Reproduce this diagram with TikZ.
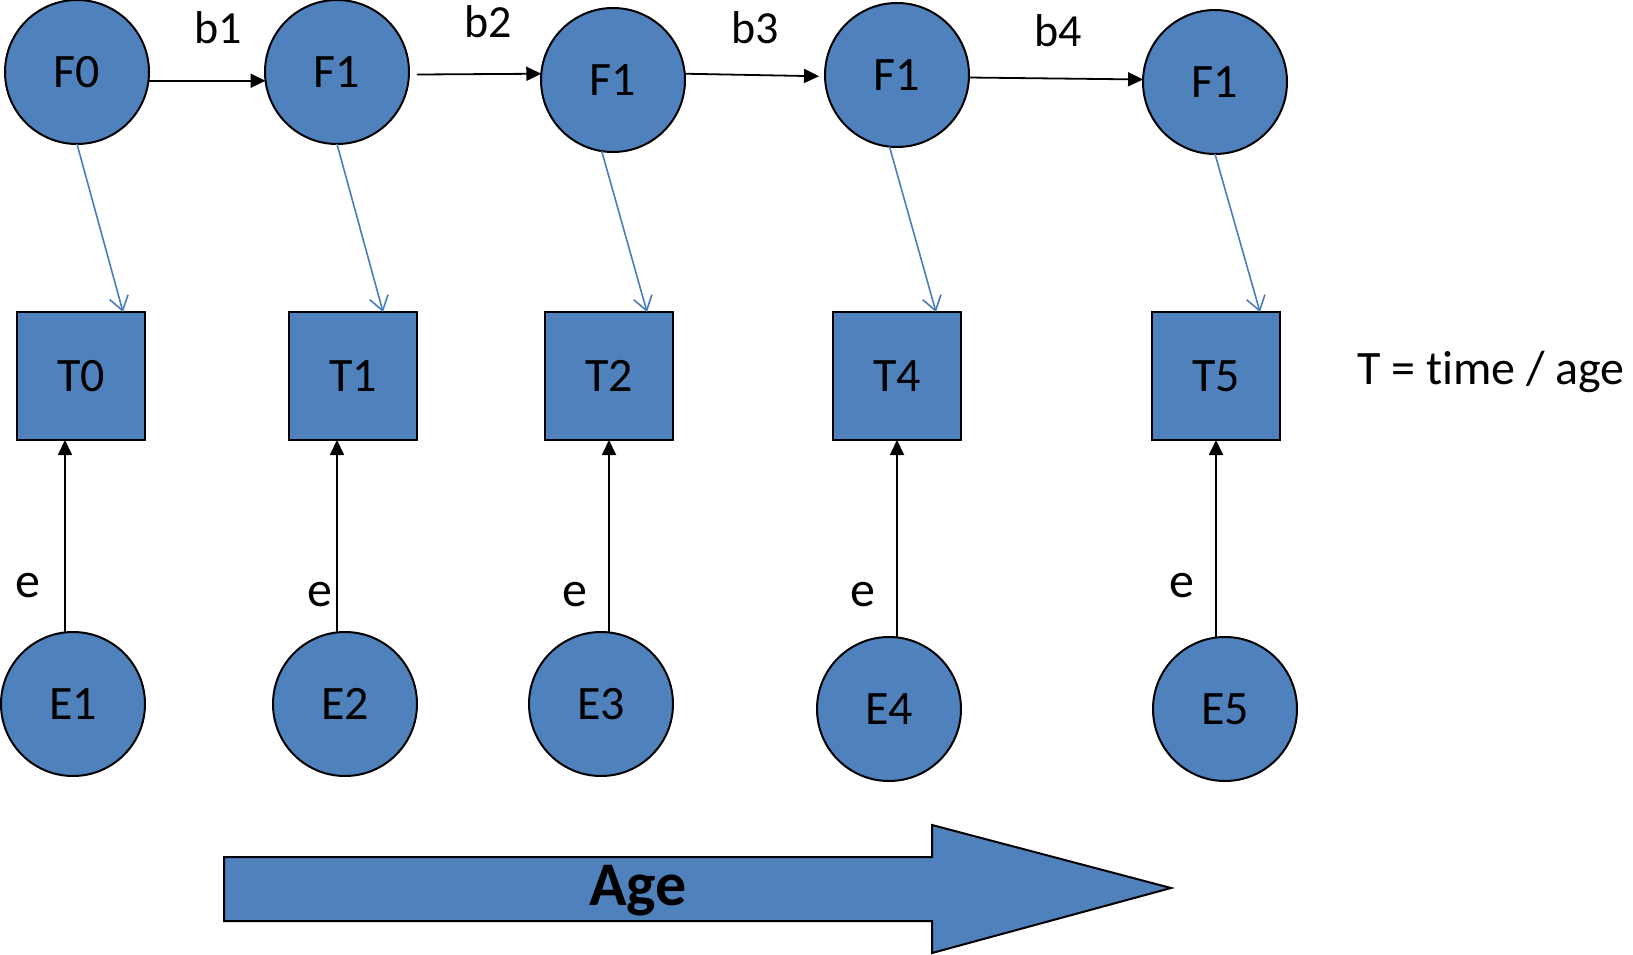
\documentclass[tikz,border=0pt]{standalone}
\usepackage{fontspec}
\setmainfont[RawFeature={-liga;-clig;-dlig;-calt}]{Carlito}
\usetikzlibrary{arrows.meta}
\definecolor{nodeblue}{HTML}{4F81BD}
\definecolor{linkblue}{HTML}{4A7EBB}
\begin{document}
\begin{tikzpicture}[x=1pt,y=-1pt,
  latent/.style={circle,draw=black,line width=2pt,fill=nodeblue,minimum size=144pt,inner sep=0pt,outer sep=0pt,font=\fontsize{48}{52}\selectfont},
  observed/.style={rectangle,draw=black,line width=2pt,fill=nodeblue,minimum size=128pt,inner sep=0pt,outer sep=0pt,font=\fontsize{48}{52}\selectfont},
  blk/.style={draw=black,line width=1.8pt,-{Triangle[length=15pt,width=14pt]}},
  load/.style={draw=linkblue,line width=1.6pt,-{Straight Barb[length=14pt,width=19pt,line width=1.6pt]}},
  coef/.style={inner sep=0pt,font=\fontsize{46}{50}\selectfont},
  errlab/.style={inner sep=0pt,font=\fontsize{50}{54}\selectfont}]
\useasboundingbox (0,0) rectangle (1633,955);

% latent factors along the top row
\node[latent] (F0) at (77,72) {F0};
\node[latent] (F1a) at (337,72) {F1};
\node[latent] (F1b) at (613,80) {F1};
\node[latent] (F1c) at (897,75) {F1};
\node[latent] (F1d) at (1215,82) {F1};

% observed measurements
\node[observed] (T0) at (81,376) {T0};
\node[observed] (T1) at (353,376) {T1};
\node[observed] (T2) at (609,376) {T2};
\node[observed] (T4) at (897,376) {T4};
\node[observed] (T5) at (1216,376) {T5};

% error terms
\node[latent] (E1) at (73,704) {E1};
\node[latent] (E2) at (345,704) {E2};
\node[latent] (E3) at (601,704) {E3};
\node[latent] (E4) at (889,709) {E4};
\node[latent] (E5) at (1225,709) {E5};

% autoregressive paths
\draw[blk] (F0.-7) -- (F1a.187);
\draw[blk] ([xshift=8pt]F1a.-2) -- (F1b.175);
\draw[blk] (F1b.5) -- ([xshift=-6pt]F1c.181);
\draw[blk] (F1c.-2) -- (F1d.178);

\node[coef] (b1) at (218,28) {b1};
\node[coef] (b2) at (488,22) {b2};
\node[coef] (b3) at (755,28) {b3};
\node[coef] (b4) at (1058,31) {b4};

% factor loadings
\draw[load] (F0.south) -- ([xshift=-22pt]T0.north east);
\draw[load] (F1a.south) -- ([xshift=-34pt]T1.north east);
\draw[load] (F1b.261) -- ([xshift=-26pt]T2.north east);
\draw[load] (F1c.264) -- ([xshift=-25pt]T4.north east);
\draw[load] (F1d.south) -- ([xshift=-20pt]T5.north east);

% error paths
\draw[blk] ([xshift=-16pt]T0.south |- E1.north) -- ([xshift=-16pt]T0.south);
\draw[blk] ([xshift=-16pt]T1.south |- E2.north) -- ([xshift=-16pt]T1.south);
\draw[blk] (T2.south |- E3.north) -- (T2.south);
\draw[blk] (T4.south |- E4.north) -- (T4.south);
\draw[blk] (T5.south |- E5.north) -- (T5.south);

\node[errlab] (e1) at (28,586) {e};
\node[errlab] (e2) at (320,595) {e};
\node[errlab] (e3) at (575,595) {e};
\node[errlab] (e4) at (863,595) {e};
\node[errlab] (e5) at (1182,586) {e};

% legend (kern keeps t and i apart)
\node[inner sep=0pt,anchor=base west,font=\fontsize{48}{52}\selectfont] (legend) at (1357,384) {T = t\kern0pt ime / age};

% age direction arrow
\draw[line width=2pt,fill=nodeblue] (224,857) -- (932,857) -- (932,825) -- (1171,888)
  -- (932,953) -- (932,921) -- (224,921) -- cycle;
\node[inner sep=0pt,font=\bfseries\fontsize{62}{66}\selectfont] (age) at (638,891) {Age};
\end{tikzpicture}
\end{document}
